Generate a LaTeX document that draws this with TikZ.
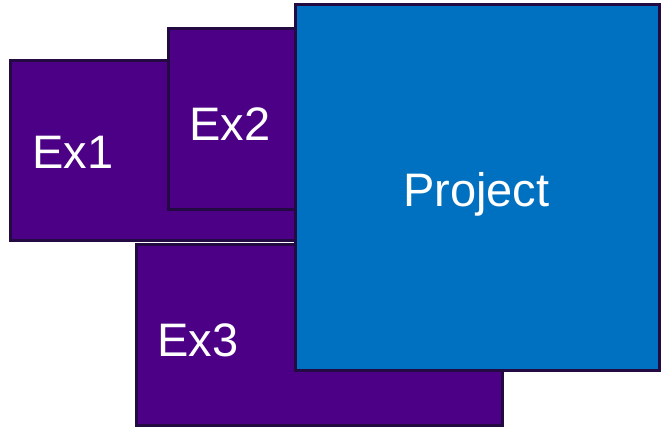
\documentclass[tikz,border=0pt]{standalone}
\usepackage{fontspec}
\setmainfont{Liberation Sans}
\definecolor{exfill}{RGB}{75,0,134}
\definecolor{projfill}{RGB}{0,112,192}
\definecolor{edge}{RGB}{36,10,66}
\begin{document}
\begin{tikzpicture}[x=1pt,y=-1pt,
  panel/.style={draw=edge,line width=3pt,inner sep=0pt,outer sep=0pt},
  expanel/.style={panel,fill=exfill},
  projpanel/.style={panel,fill=projfill},
  caption/.style={text=white,inner sep=0pt,anchor=base west,font=\fontsize{47}{52}\selectfont}]
\useasboundingbox (0,0) rectangle (661,426);
% stacked exercise panels, drawn back to front
\draw[expanel] (10,60) rectangle (380,240);
\coordinate (ex1) at (10,60);
\draw[expanel] (168,28) rectangle (380,209);
\coordinate (ex2) at (168,28);
\draw[expanel] (136,244) rectangle (502,425);
\coordinate (ex3) at (136,244);
\draw[projpanel] (295,4) rectangle (659,370);
\coordinate (project) at (295,4);
% captions
\node[caption] (lex1) at (32,168) {Ex1};
\node[caption] (lex2) at (189,140) {Ex2};
\node[caption] (lex3) at (157,356) {Ex3};
\node[caption] (lproject) at (403,206) {Project};
\end{tikzpicture}
\end{document}
